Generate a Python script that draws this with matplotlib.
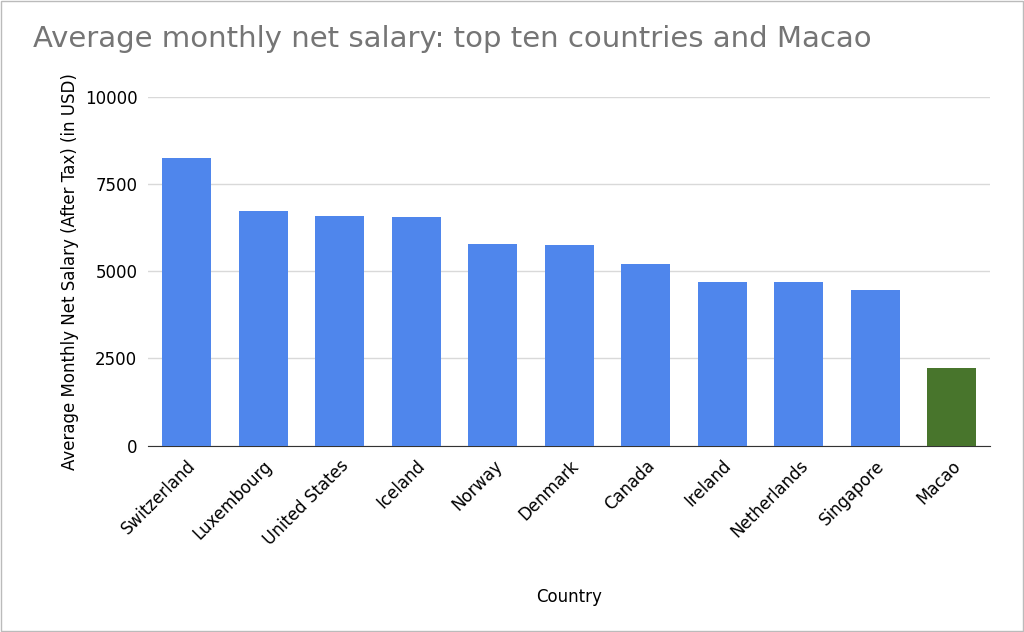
import matplotlib.pyplot as plt
import numpy as np

countries = ["Switzerland", "Luxembourg", "United States", "Iceland", "Norway",
             "Denmark", "Canada", "Ireland", "Netherlands", "Singapore", "Macao"]
salaries = [8230, 6710, 6570, 6565, 5790, 5735, 5190, 4700, 4700, 4470, 2210]
colors = ["#4f86ec"] * 10 + ["#48752c"]
yticks = [0, 2500, 5000, 7500, 10000]

fig = plt.figure(figsize=(10.24, 6.32), dpi=100)
ax = fig.add_axes([0.145, 0.295, 0.822, 0.552])

x = np.arange(len(countries))
ax.bar(x, salaries, width=0.64, color=colors, zorder=3)
ax.set_xlim(-0.5, len(countries) - 0.5)
ax.set_ylim(0, 10000)
ax.set_yticks(yticks)
ax.set_yticklabels([str(t) for t in yticks], fontsize=12)
ax.set_xticks(x)
ax.set_xticklabels(countries, rotation=45, ha="right", rotation_mode="anchor", fontsize=12)
ax.grid(axis="y", color="#d9d9d9", linewidth=1, zorder=0)
for s in ["top", "right", "left"]:
    ax.spines[s].set_visible(False)
ax.spines["bottom"].set_color("#333333")
ax.tick_params(length=0, pad=8)

ax.set_ylabel("Average Monthly Net Salary (After Tax) (in USD)", fontsize=12)
ax.set_xlabel("Country", fontsize=12, labelpad=28)
fig.text(0.032, 0.925, "Average monthly net salary: top ten countries and Macao",
         fontsize=21, color="#757575")

fig.patches.append(plt.Rectangle((0.001, 0.001), 0.998, 0.998, transform=fig.transFigure,
                                 fill=False, edgecolor="#bbbbbb", linewidth=1))
fig.savefig("out.png", dpi=100)
